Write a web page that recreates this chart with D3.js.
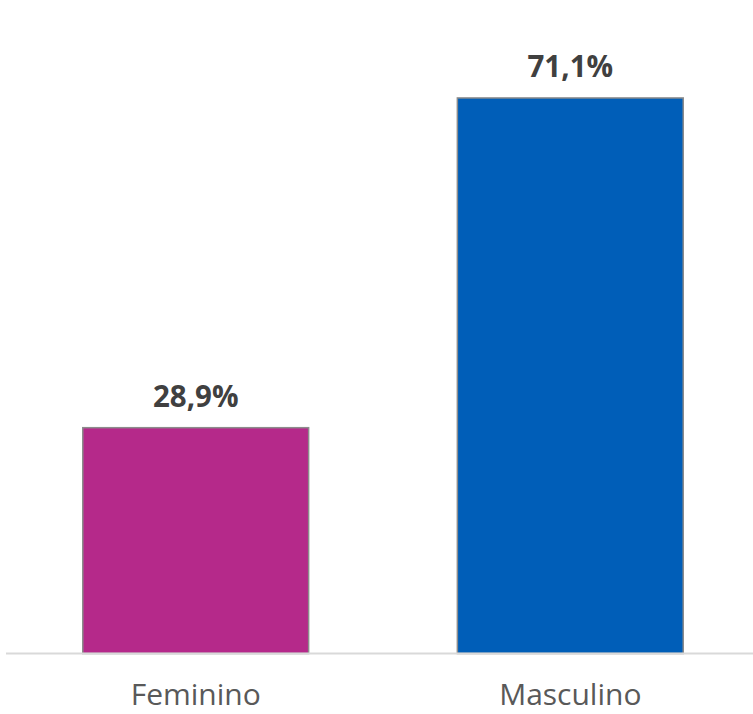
<!DOCTYPE html>
<html>
<head>
    <meta charset="utf-8">
    <style>
        body { margin: 0; background: #fff; }
        svg { display: block; }
        .value-label { font-family: 'Open Sans', sans-serif; font-weight: bold; font-size: 29.5px; fill: #404040; }
        .x .tick text { font-family: 'Open Sans', sans-serif; font-size: 30px; fill: #595959; }
        .x .tick line { display: none; }
        .x .domain { stroke: #d9d9d9; stroke-width: 2px; }
    </style>
</head>
<body>
    <svg width="753" height="714"></svg>

<script src="https://d3js.org/d3.v7.min.js"></script>
<script>
    // data
    const categories = ["Feminino", "Masculino"];
    const values = [28.9, 71.1];
    const valueLabels = ["28,9%", "71,1%"];
    const colors = ["#b5298a", "#005eb8"];

    let data = categories.map((c, i) => ({ cat: c, val: values[i], label: valueLabels[i], color: colors[i] }));

    let svg = d3.select("svg");

    let baseline = 653.5;

    let x = d3.scaleBand()
        .domain(categories)
        .range([8.4, 757.6])
        .paddingInner(0.397)
        .paddingOuter(0.1985);

    let y = d3.scaleLinear()
        .domain([0, 80])
        .range([baseline, 28.4]);

    // bars
    svg.append("g")
        .selectAll("rect")
        .data(data)
        .join("rect")
        .attr("x", d => x(d.cat))
        .attr("y", d => y(d.val))
        .attr("width", x.bandwidth())
        .attr("height", d => y(0) - y(d.val))
        .attr("fill", d => d.color)
        .attr("stroke", "#8c8c8c")
        .attr("stroke-width", 1.5);

    // axis line + category labels
    let xAxis = svg.append("g")
        .attr("class", "x axis")
        .attr("transform", `translate(0,${baseline})`)
        .call(d3.axisBottom(x).tickSizeOuter(0).tickSize(0).tickPadding(30));

    xAxis.select(".domain").attr("d", `M6,0H753`);

    // value labels
    svg.append("g")
        .selectAll("text")
        .data(data)
        .join("text")
        .attr("class", "value-label")
        .attr("x", d => x(d.cat) + x.bandwidth() / 2)
        .attr("y", d => y(d.val) - 21)
        .attr("text-anchor", "middle")
        .text(d => d.label);
</script>
</body>
</html>
